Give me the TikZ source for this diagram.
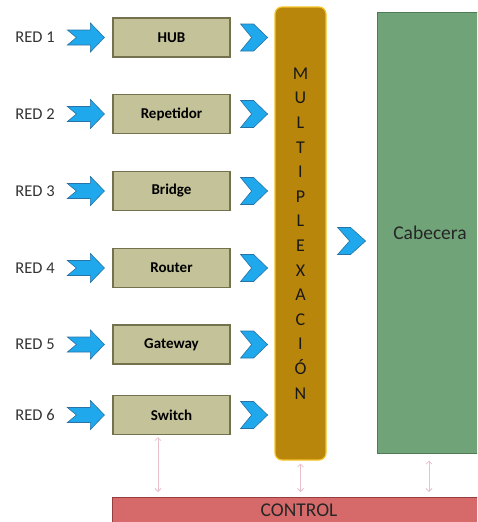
\documentclass[tikz,border=0pt]{standalone}
\usepackage{fontspec}
\setmainfont{Carlito}
\usetikzlibrary{arrows.meta}
\definecolor{azul}{RGB}{32,168,236}
\definecolor{azulborde}{RGB}{40,115,165}
\definecolor{caqui}{RGB}{196,194,152}
\definecolor{caquiborde}{RGB}{115,113,78}
\definecolor{oro}{RGB}{184,134,11}
\definecolor{oroborde}{RGB}{245,195,40}
\definecolor{verde}{RGB}{112,163,119}
\definecolor{verdeborde}{RGB}{78,122,84}
\definecolor{rojo}{RGB}{214,106,106}
\definecolor{rojoborde}{RGB}{150,62,62}
\definecolor{rosa}{RGB}{232,192,202}
\tikzset{equipo/.style={draw=caquiborde, fill=caqui, line width=1.2pt,
         minimum width=117pt, minimum height=39pt, inner sep=0pt,
         font=\fontsize{15}{17}\selectfont\bfseries},
         etiqueta/.style={text=black!80, font=\fontsize{16.5}{18}\selectfont},
         flecha/.style={fill=azul, draw=azulborde, line width=0.6pt, line join=miter},
         ctrl/.style={draw=rosa, line width=0.8pt,
         {Straight Barb[length=3pt,width=6pt]}-{Straight Barb[length=3pt,width=6pt]}}}

\begin{document}
\begin{tikzpicture}[x=1pt,y=-1pt]
  \useasboundingbox (0,0) rectangle (477,522);
  \clip (0,0) rectangle (477,522);

  \foreach \i/\y/\t in {1/37.5/HUB,2/114/Repetidor,3/191/Bridge,4/268/Router,5/344.5/Gateway,6/415/Switch}{
    \node[equipo] (eq\i) at (171.5,\y) {\t};
    \node[etiqueta] (red\i) at (35,\y) {RED \i};
    \filldraw[flecha,shift={(eq\i.west)}] (-45,-7.5) -- (-22,-7.5) -- (-22,-14.5) -- (-8,0)
      -- (-22,14.5) -- (-22,7.5) -- (-45,7.5) -- (-36,0) -- cycle;
    \filldraw[flecha,shift={(eq\i.east)}] (10,-13.5) -- (23,-13.5) -- (37,0) -- (23,13.5)
      -- (10,13.5) -- (21,0) -- cycle;
  }

  \node[draw=oroborde, fill=oro, line width=1.2pt, rounded corners=7pt,
    minimum width=51pt, minimum height=453pt, inner sep=0pt, align=center,
    text=black!90, font=\fontsize{18}{24.6}\selectfont] (mux) at (300.5,233.5)
    {M\\U\\L\\T\\I\\P\\L\\E\\X\\A\\C\\I\\Ó\\N};

  \node[draw=verdeborde, fill=verde, line width=1pt, minimum width=104pt,
    minimum height=441pt, inner sep=0pt] (cab) at (429,232.5) {};
  \node[font=\fontsize{19.5}{21}\selectfont, text=black!85] (cabtxt) at (430,233) {Cabecera};

  \filldraw[flecha,shift={(mux.east |- 0,241)}] (11,-13.5) -- (24,-13.5) -- (39,0) -- (24,13.5)
    -- (11,13.5) -- (23,0) -- cycle;

  \node[draw=rojoborde, fill=rojo, line width=1pt, minimum width=370pt,
    minimum height=30pt, inner sep=0pt, anchor=north west] (control) at (112,497) {};
  \node[font=\fontsize{19.5}{21}\selectfont, text=black!85] (ctrltxt) at (299,510) {CONTROL};

  \draw[ctrl] ([yshift=-2pt]eq6.south -| 158,0) -- ([yshift=5pt]control.north -| 158,0);
  \draw[ctrl] ([yshift=-3pt]mux.south) -- ([yshift=5pt]control.north -| mux.south);
  \draw[ctrl] ([yshift=-7pt]cab.south) -- ([yshift=5pt]control.north -| cab.south);
\end{tikzpicture}
\end{document}
